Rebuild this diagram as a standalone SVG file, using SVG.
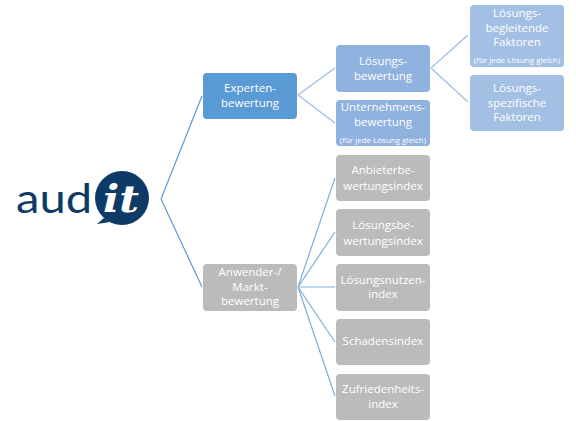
<svg xmlns="http://www.w3.org/2000/svg" width="576" height="421" viewBox="0 0 576 421">
<style>
text{font-family:"Open Sans","Noto Sans","Liberation Sans",sans-serif;fill:#fff;text-anchor:middle;font-size:11.5px}
.s{font-size:8px}
.c{fill:none;stroke-width:1.2}
.b{stroke:#5b9bd5}.l{stroke:#9dbde3}
.g{fill:#bbb}
</style>
<rect width="576" height="421" fill="#fff"/>
<g id="connectors">
<path class="c b" d="M161 199L202 96M161 199L202 287"/>
<path class="c l" d="M298 95L335 68M298 95L335 123M431 68L468 35M431 68L468 102"/>
<path class="c b" d="M298 287L335 178M298 287L335 232M298 287L335 287M298 287L335 342M298 287L335 396" stroke-opacity=".8"/>
</g>
<g id="logo">
<text x="54" y="213" style="font-family:Lato,'Open Sans',sans-serif;font-weight:400;font-size:41px;fill:#0d3b66" textLength="76" lengthAdjust="spacingAndGlyphs">aud</text>
<circle cx="122" cy="198" r="27" fill="#0d3b66"/>
<path d="M104 218L97 224L110 222Z" fill="#0d3b66"/>
<text x="121" y="212" style="font-family:'DejaVu Serif',serif;font-weight:700;font-style:italic;font-size:38px" textLength="36" lengthAdjust="spacingAndGlyphs">it</text>
</g>
<g id="experten"><rect x="203" y="73" width="94" height="46" rx="4" fill="#5b9bd5"/><text x="250" y="92">Experten-</text><text x="250" y="107">bewertung</text></g>
<g id="loesungsbewertung"><rect x="336" y="45" width="94" height="47" rx="4" fill="#8fb2de"/><text x="383" y="65">Lösungs-</text><text x="383" y="80">bewertung</text></g>
<g id="unternehmen"><rect x="336" y="100" width="94" height="46" rx="4" fill="#8fb2de"/><text x="383" y="111">Unternehmens-</text><text x="383" y="126">bewertung</text><text class="s" x="383" y="143">(für jede Lösung gleich)</text></g>
<g id="begleitend"><rect x="470" y="5" width="94" height="62" rx="4" fill="#a3bfe3"/><text x="517" y="17">Lösungs-</text><text x="517" y="32">begleitende</text><text x="517" y="46">Faktoren</text><text class="s" x="517" y="63">(für jede Lösung gleich)</text></g>
<g id="spezifisch"><rect x="470" y="75" width="94" height="56" rx="4" fill="#a3bfe3"/><text x="517" y="92">Lösungs-</text><text x="517" y="107">spezifische</text><text x="517" y="121">Faktoren</text></g>
<g id="anwender"><rect class="g" x="203" y="264" width="94" height="47" rx="4"/><text x="250" y="276">Anwender-/</text><text x="250" y="291">Markt-</text><text x="250" y="305">bewertung</text></g>
<g id="anbieter"><rect class="g" x="336" y="155" width="94" height="46" rx="4"/><text x="383" y="174">Anbieterbe-</text><text x="383" y="190">wertungsindex</text></g>
<g id="loesungsindex"><rect class="g" x="336" y="209" width="94" height="47" rx="4"/><text x="383" y="229">Lösungsbe-</text><text x="383" y="245">wertungsindex</text></g>
<g id="nutzen"><rect class="g" x="336" y="264" width="94" height="47" rx="4"/><text x="383" y="284">Lösungsnutzen-</text><text x="383" y="298">index</text></g>
<g id="schaden"><rect class="g" x="336" y="319" width="94" height="46" rx="4"/><text x="383" y="345">Schadensindex</text></g>
<g id="zufrieden"><rect class="g" x="336" y="374" width="94" height="46" rx="4"/><text x="383" y="393">Zufriedenheits-</text><text x="383" y="408">index</text></g>
</svg>
